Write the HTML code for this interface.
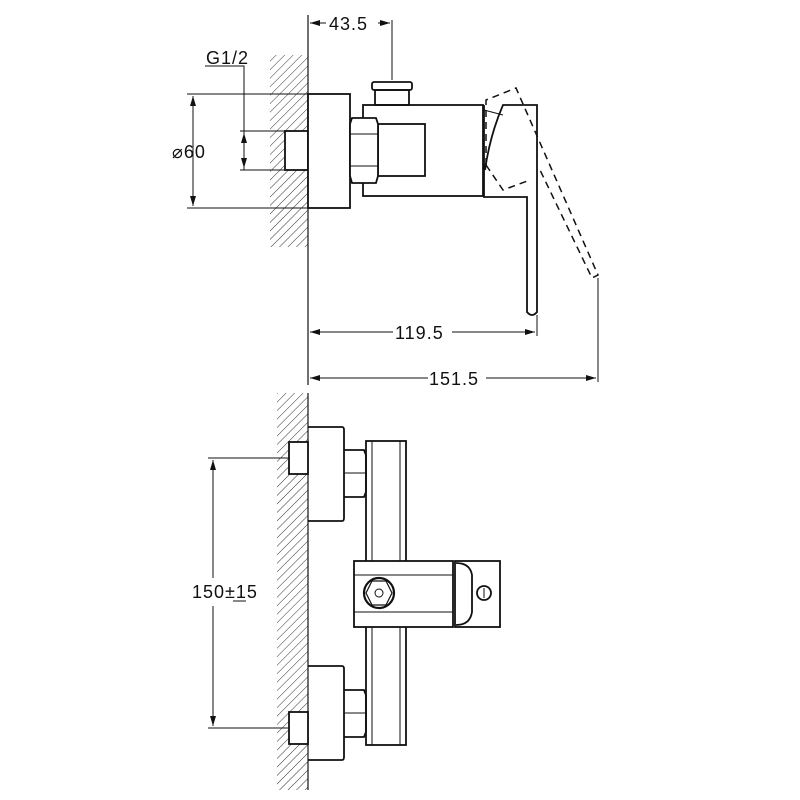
<!DOCTYPE html>
<html><head><style>body{margin:0;background:#fff}svg{display:block}text{font-family:"Liberation Sans",sans-serif;font-size:18px;fill:#111;letter-spacing:1px}</style></head>
<body>
<svg width="800" height="800" viewBox="0 0 800 800" xmlns="http://www.w3.org/2000/svg">
<defs>
<pattern id="h" patternUnits="userSpaceOnUse" width="6" height="6" patternTransform="rotate(45)">
<line x1="0" y1="0" x2="0" y2="6" stroke="#333" stroke-width="1"/></pattern>
<marker id="a" markerWidth="10" markerHeight="6" refX="10" refY="3" orient="auto-start-reverse" markerUnits="userSpaceOnUse"><path d="M0,0 L10,3 L0,6 z" fill="#111"/></marker>
</defs>
<g fill="none" stroke="#111" stroke-width="1.8">
<!-- TOP VIEW -->
<rect x="270" y="55" width="38" height="192" fill="url(#h)" stroke="none"/>
<line x1="308" y1="15" x2="308" y2="385" stroke-width="1.2"/>
<rect x="285" y="131" width="23" height="39" fill="#fff"/>
<rect x="308" y="94" width="42" height="114" fill="#fff"/>
<rect x="363" y="105" width="120" height="91"/>
<rect x="378" y="124" width="47" height="52"/>
<path d="M352,118 L376,118 L378,124 L378,176 L376,183 L352,183 L350,176 L350,124 Z" fill="#fff"/>
<line x1="350" y1="134" x2="378" y2="134" stroke-width="1"/>
<line x1="350" y1="166" x2="378" y2="166" stroke-width="1"/>
<rect x="372" y="82" width="40" height="8" rx="2"/>
<rect x="375" y="90" width="34" height="15"/>
<path d="M484,105 L484,197 L527,197 L527,312 Q532,318 537,312 L537,105 L503,105 Q490,135 485,170"/>
<path d="M484,110 L503,115" stroke-width="1"/>
<g stroke-dasharray="7,5" stroke-width="1.5">
<path d="M486,165 L486,100 L516,88 L598,275 L592,278 L540,170"/>
<path d="M486,165 L503,190 L530,180"/>
</g>
<!-- dims top -->
<g stroke-width="1">
<line x1="392" y1="20" x2="392" y2="80"/>
<line x1="310" y1="23" x2="326" y2="23" marker-start="url(#a)"/>
<line x1="378" y1="23" x2="390" y2="23" marker-end="url(#a)"/>
<polyline points="205,66 244,66 244,170"/>
<line x1="187" y1="94" x2="308" y2="94"/>
<line x1="187" y1="208" x2="308" y2="208"/>
<line x1="193" y1="96" x2="193" y2="206" marker-start="url(#a)" marker-end="url(#a)"/>
<line x1="240" y1="131" x2="285" y2="131"/>
<line x1="240" y1="170" x2="285" y2="170"/>
<line x1="244" y1="133" x2="244" y2="168" marker-start="url(#a)" marker-end="url(#a)"/>
<line x1="537" y1="315" x2="537" y2="336"/>
<line x1="598" y1="278" x2="598" y2="382"/>
<line x1="310" y1="332" x2="393" y2="332" marker-start="url(#a)"/>
<line x1="452" y1="332" x2="535" y2="332" marker-end="url(#a)"/>
<line x1="310" y1="378" x2="428" y2="378" marker-start="url(#a)"/>
<line x1="486" y1="378" x2="596" y2="378" marker-end="url(#a)"/>
</g>
<!-- BOTTOM VIEW -->
<rect x="277" y="393" width="31" height="397" fill="url(#h)" stroke="none"/>
<line x1="308" y1="393" x2="308" y2="790" stroke-width="1.2"/>
<rect x="289" y="442" width="19" height="32" fill="#fff"/>
<rect x="289" y="712" width="19" height="32" fill="#fff"/>
<path d="M308,427 L342,427 Q344,427 344,430 L344,518 Q344,521 342,521 L308,521"/>
<path d="M308,666 L342,666 Q344,666 344,669 L344,757 Q344,760 342,760 L308,760"/>
<path d="M344,450 L364,450 L366,455 L366,492 L364,497 L344,497"/>
<line x1="344" y1="473" x2="366" y2="473" stroke-width="1"/>
<path d="M344,690 L364,690 L366,695 L366,732 L364,737 L344,737"/>
<line x1="344" y1="713" x2="366" y2="713" stroke-width="1"/>
<rect x="366" y="441" width="40" height="304"/>
<line x1="372" y1="441" x2="372" y2="745" stroke-width="1"/>
<line x1="400" y1="441" x2="400" y2="745" stroke-width="1"/>
<rect x="354" y="561" width="99" height="66" fill="#fff"/>
<line x1="354" y1="575" x2="453" y2="575" stroke-width="1"/>
<line x1="354" y1="612" x2="453" y2="612" stroke-width="1"/>
<rect x="455" y="561" width="45" height="66"/>
<path d="M456,563 Q470,563 472,575 L472,612 Q470,625 456,625" />
<circle cx="379" cy="593" r="15" stroke-width="2.2"/>
<polygon points="372,581 386,581 392,593 386,605 372,605 366,593" stroke-width="1.2"/>
<circle cx="379" cy="593" r="4" stroke-width="1"/>
<circle cx="484" cy="593" r="7"/>
<line x1="484" y1="588" x2="484" y2="598" stroke-width="1"/>
<g stroke-width="1">
<line x1="208" y1="458" x2="289" y2="458"/>
<line x1="208" y1="728" x2="289" y2="728"/>
<line x1="213" y1="460" x2="213" y2="578" marker-start="url(#a)"/>
<line x1="213" y1="606" x2="213" y2="726" marker-end="url(#a)"/>
<line x1="233" y1="601" x2="246" y2="601"/>
</g>
</g>
<text x="329" y="30">43.5</text>
<text x="206" y="64">G1/2</text>
<text x="172" y="158">⌀60</text>
<text x="395" y="339">119.5</text>
<text x="429" y="385">151.5</text>
<text x="192" y="598">150±15</text>
</svg>
</body></html>
